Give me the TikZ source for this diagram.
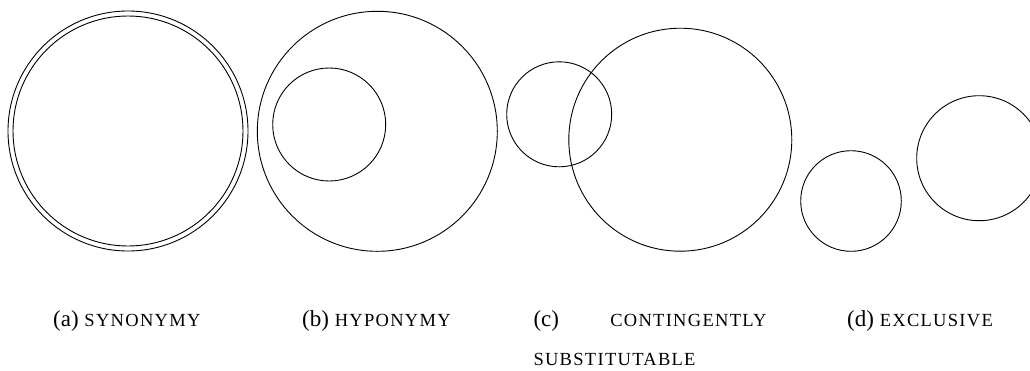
\documentclass[tikz,border=0pt]{standalone}
\usepackage{fontspec}
\setmainfont{Liberation Serif}
\newfontfamily\capsfont[LetterSpace=7]{Liberation Serif}
\newcommand{\sclab}[1]{{\fontsize{18.5}{22}\selectfont\capsfont #1}}
\begin{document}
\begin{tikzpicture}[x=1pt,y=-1pt,
  ring/.style={draw=black,line width=0.9pt},
  caption/.style={inner sep=0pt,anchor=base west,font=\fontsize{23}{27}\selectfont}]
\useasboundingbox (0,0) rectangle (1030,370);
\clip (0,0) rectangle (1030,370);
% (a) synonymy: two nearly coincident circles
\draw[ring] (128,131) circle[radius=120];
\draw[ring] (128,131) circle[radius=115];
% (b) hyponymy: one circle inside another
\draw[ring] (377.3,131.3) circle[radius=120];
\draw[ring] (329.2,124.5) circle[radius=56.5];
% (c) contingently substitutable: overlapping circles
\draw[ring] (559.2,114.3) circle[radius=52.5];
\draw[ring] (680.3,139.7) circle[radius=111.5];
% (d) exclusive: disjoint circles
\draw[ring] (851,201) circle[radius=50.3];
\draw[ring] (979.2,158.2) circle[radius=62.5];
% captions
\node[caption] (capa) at (53,326) {(a) \sclab{SYNONYMY}};
\node[caption] (capb) at (302,326) {(b) \sclab{HYPONYMY}};
\node[caption] (capc) at (533.3,326) {(c)};
\node[caption,anchor=base east] (capc2) at (766.7,326) {\sclab{CONTINGENTLY}};
\node[caption] (capc3) at (533.3,365) {\sclab{SUBSTITUTABLE}};
\node[caption] (capd) at (847,326) {(d) \sclab{EXCLUSIVE}};
\end{tikzpicture}
\end{document}
